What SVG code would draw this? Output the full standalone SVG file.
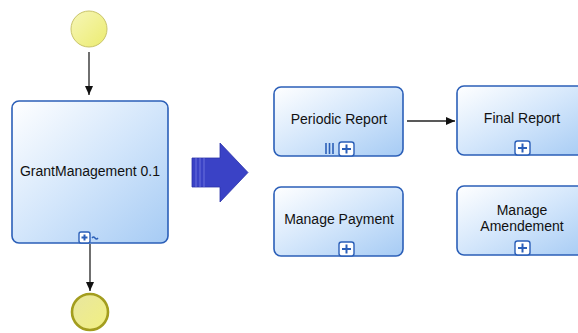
<svg xmlns="http://www.w3.org/2000/svg" width="578" height="333" viewBox="0 0 578 333">
<defs>
<linearGradient id="boxg" x1="0" y1="0" x2="1" y2="1">
<stop offset="0" stop-color="#ffffff"/>
<stop offset="0.5" stop-color="#d3e6fb"/>
<stop offset="1" stop-color="#a6cbf4"/>
</linearGradient>
<linearGradient id="yg" x1="0" y1="0" x2="1" y2="1">
<stop offset="0" stop-color="#f6f6b8"/>
<stop offset="1" stop-color="#ecec70"/>
</linearGradient>
<linearGradient id="yg2" x1="0" y1="0" x2="1" y2="1">
<stop offset="0" stop-color="#e8e6a0"/>
<stop offset="1" stop-color="#f2f080"/>
</linearGradient>
<marker id="ah" markerWidth="10" markerHeight="10" refX="9" refY="5" orient="auto" markerUnits="userSpaceOnUse">
<path d="M0,1 L9,5 L0,9 Z" fill="#111"/>
</marker>
<style>
.box{fill:url(#boxg);stroke:#2b5fb8;stroke-width:1.6}
.lbl{font-family:"Liberation Sans",Arial,sans-serif;font-size:14px;fill:#111;text-anchor:middle}
.mk{fill:#fff;stroke:#2b5fb8;stroke-width:1.4}
.plus{stroke:#2b5fb8;stroke-width:2}
.con{stroke:#222;stroke-width:1.3;fill:none}
</style>
</defs>
<g id="connectors">
<line class="con" x1="89" y1="52" x2="89" y2="95" marker-end="url(#ah)"/>
<line class="con" x1="90" y1="244" x2="90" y2="291" marker-end="url(#ah)"/>
<line class="con" x1="407" y1="121" x2="455" y2="121" marker-end="url(#ah)"/>
<g id="blockarrow">
<path d="M192,158 L220,158 L220,143 L248,172.5 L220,202 L220,187 L192,187 Z" fill="#3a42c6" stroke="#2c33a8" stroke-width="0.8"/>
<line x1="196" y1="158" x2="196" y2="187" stroke="#6a70dc" stroke-width="1"/>
<line x1="200" y1="158" x2="200" y2="187" stroke="#6a70dc" stroke-width="1"/>
<line x1="204" y1="158" x2="204" y2="187" stroke="#6a70dc" stroke-width="1"/>
</g>
</g>
<g id="start">
<circle cx="89" cy="29" r="18" fill="url(#yg)" stroke="#c9c46a" stroke-width="1"/>
</g>
<g id="end">
<circle cx="90" cy="312" r="18" fill="url(#yg2)" stroke="#a39d1e" stroke-width="2.6"/>
</g>
<g id="grantmanagement">
<rect class="box" x="12" y="101" width="156" height="142" rx="7"/>
<text class="lbl" x="90" y="176">GrantManagement 0.1</text>
<rect class="mk" x="79" y="232" width="11" height="11" rx="2"/>
<line class="plus" x1="81.5" y1="237.5" x2="87.5" y2="237.5"/>
<line class="plus" x1="84.5" y1="234.5" x2="84.5" y2="240.5"/>
<path d="M92,238 q1.5,-2 3,0 t3,0" stroke="#2b5fb8" stroke-width="1.3" fill="none"/>
</g>
<g id="periodic">
<rect class="box" x="274" y="87" width="129" height="69" rx="7"/>
<text class="lbl" x="339" y="124">Periodic Report</text>
<line x1="326" y1="143" x2="326" y2="154" stroke="#2b5fb8" stroke-width="1.6"/>
<line x1="329.5" y1="143" x2="329.5" y2="154" stroke="#2b5fb8" stroke-width="1.6"/>
<line x1="333" y1="143" x2="333" y2="154" stroke="#2b5fb8" stroke-width="1.6"/>
<rect class="mk" x="339" y="142" width="15" height="14" rx="2.5"/>
<line class="plus" x1="342" y1="149" x2="351" y2="149"/>
<line class="plus" x1="346.5" y1="144.5" x2="346.5" y2="153.5"/>
</g>
<g id="final">
<rect class="box" x="457" y="86" width="132" height="69" rx="7"/>
<text class="lbl" x="522" y="123">Final Report</text>
<rect class="mk" x="515" y="141" width="15" height="14" rx="2.5"/>
<line class="plus" x1="518" y1="148" x2="527" y2="148"/>
<line class="plus" x1="522.5" y1="143.5" x2="522.5" y2="152.5"/>
</g>
<g id="payment">
<rect class="box" x="274" y="187" width="129" height="69" rx="7"/>
<text class="lbl" x="339" y="224">Manage Payment</text>
<rect class="mk" x="339" y="242" width="15" height="14" rx="2.5"/>
<line class="plus" x1="342" y1="249" x2="351" y2="249"/>
<line class="plus" x1="346.5" y1="244.5" x2="346.5" y2="253.5"/>
</g>
<g id="amendement">
<rect class="box" x="457" y="186" width="132" height="69" rx="7"/>
<text class="lbl" x="522" y="215">Manage</text>
<text class="lbl" x="522" y="231">Amendement</text>
<rect class="mk" x="515" y="241" width="15" height="14" rx="2.5"/>
<line class="plus" x1="518" y1="248" x2="527" y2="248"/>
<line class="plus" x1="522.5" y1="243.5" x2="522.5" y2="252.5"/>
</g>
</svg>
